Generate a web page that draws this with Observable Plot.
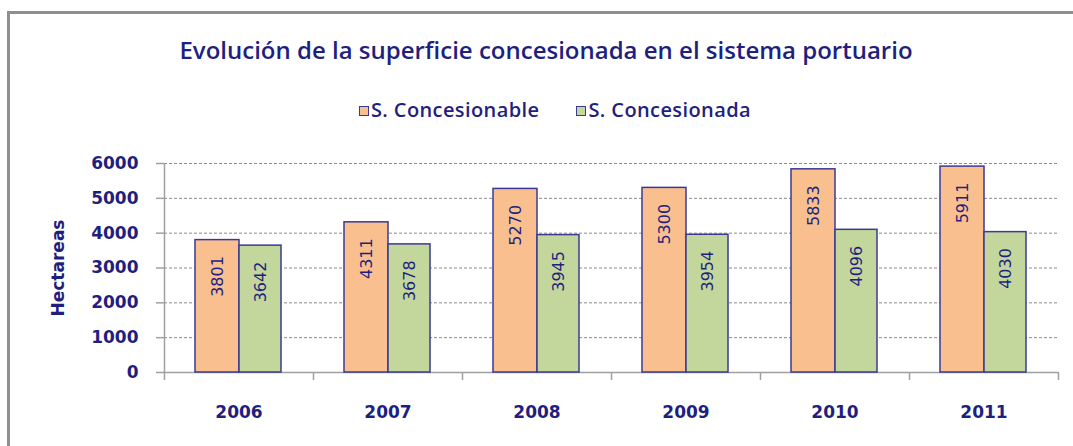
<!DOCTYPE html>
<html>
<head>
<meta charset="utf-8">
<script src="https://cdn.jsdelivr.net/npm/d3@7"></script>
<script src="https://cdn.jsdelivr.net/npm/@observablehq/plot@0.6"></script>
<style>
  html, body { margin: 0; padding: 0; background: #fff; }
  body { width: 1073px; height: 446px; position: relative; overflow: hidden; }
  #frame { position: absolute; left: 7px; top: 11px; width: 1100px; height: 460px;
           border-top: 3px solid #8f8f8f; border-left: 3px solid #8f8f8f; }
  #title { position: absolute; left: 0; width: 1092px; top: 35px; text-align: center; white-space: nowrap;
           font-family: "Open Sans", "Noto Sans", sans-serif; font-weight: 600;
           font-size: 24px; color: #1f1f7f; line-height: 30px; }
  #legend { position: absolute; left: 0; width: 1110px; top: 97px; display: flex; justify-content: center; gap: 37px;
            font-family: "Open Sans", "Noto Sans", sans-serif; font-size: 20px; font-weight: 600; letter-spacing: 0.4px;
            color: #1f1f7f; line-height: 26px; white-space: nowrap; }
  .item { display: flex; align-items: center; }
  .sw { width: 8px; height: 8px; border: 1px solid #3a3a95; margin-right: 2px; margin-top: 1px; }
  #chart { position: absolute; left: 0; top: 140px; }
</style>
</head>
<body>
<div id="frame"></div>
<div id="title">Evolución de la superficie concesionada en el sistema portuario</div>
<div id="legend"></div>
<div id="chart"></div>
<script>
const years = ["2006", "2007", "2008", "2009", "2010", "2011"];
const concesionable = [3801, 4311, 5270, 5300, 5833, 5911];
const concesionada = [3642, 3678, 3945, 3954, 4096, 4030];
const seriesNames = ["S. Concesionable", "S. Concesionada"];
const seriesColors = ["#f9bf8f", "#c3d69b"];
const yTicks = [0, 1000, 2000, 3000, 4000, 5000, 6000];
const yLabel = "Hectareas";

const navy = "#1f1f7f";
const edge = "#3a3a95";
const data = years.map((year, i) => ({year, a: concesionable[i], b: concesionada[i]}));

const legend = document.getElementById("legend");
seriesNames.forEach((name, i) => {
  const item = document.createElement("div");
  item.className = "item";
  const sw = document.createElement("span");
  sw.className = "sw";
  sw.style.background = seriesColors[i];
  const t = document.createElement("span");
  t.textContent = name;
  item.append(sw, t);
  legend.append(item);
});

const font = "'DejaVu Sans', Verdana, sans-serif";
const chart = Plot.plot({
  width: 1073,
  height: 306,
  marginLeft: 164,
  marginRight: 15,
  marginTop: 23,
  marginBottom: 74,
  style: {fontFamily: font, background: "transparent", overflow: "visible"},
  x: {domain: years, padding: 0, axis: null},
  y: {domain: [0, 6000], axis: null},
  marks: [
    Plot.gridY(yTicks.slice(1), {stroke: "#8a8a8a", strokeOpacity: 1, strokeDasharray: "3,2"}),
    Plot.ruleY([0], {stroke: "#a0a0a0", strokeWidth: 1.5}),
    Plot.ruleX(years, {x: d => d, y1: -230, y2: 0, dx: -74.5, stroke: "#a0a0a0", strokeWidth: 1.5}),
    Plot.ruleX([years[years.length - 1]], {x: d => d, y1: -230, y2: 0, dx: 74.5, stroke: "#a0a0a0", strokeWidth: 1.5}),
    Plot.ruleX([years[0]], {x: d => d, y1: 0, y2: 6000, dx: -74.5, stroke: "#a0a0a0", strokeWidth: 1.5}),
    Plot.axisY(yTicks, {tickSize: 8, tickPadding: 18, stroke: "#a0a0a0", strokeWidth: 1.5, fill: navy,
      fontSize: 17, fontWeight: "bold", fontFamily: font, tickFormat: d => String(d), label: null}),
    Plot.barY(data, {x: "year", y: "a", fill: seriesColors[0], stroke: edge, strokeWidth: 1.5, insetLeft: 31, insetRight: 74}),
    Plot.barY(data, {x: "year", y: "b", fill: seriesColors[1], stroke: edge, strokeWidth: 1.5, insetLeft: 75, insetRight: 32}),
    Plot.text(data, {x: "year", y: "a", text: d => String(d.a), rotate: -90, textAnchor: "end", dx: -21.5, dy: 16,
      fontSize: 16, fontFamily: font, fill: navy}),
    Plot.text(data, {x: "year", y: "b", text: d => String(d.b), rotate: -90, textAnchor: "end", dx: 21.5, dy: 16,
      fontSize: 16, fontFamily: font, fill: navy}),
    Plot.text(years, {x: d => d, y: 0, text: d => d, dy: 40, fontSize: 17, fontWeight: "bold", fontFamily: font, fill: navy}),
    Plot.text([yLabel], {frameAnchor: "left", textAnchor: "middle", dx: -106, rotate: -90, text: d => d,
      fontSize: 17, fontWeight: "bold", fontFamily: font, fill: navy})
  ]
});
document.getElementById("chart").append(chart);
</script>
</body>
</html>
